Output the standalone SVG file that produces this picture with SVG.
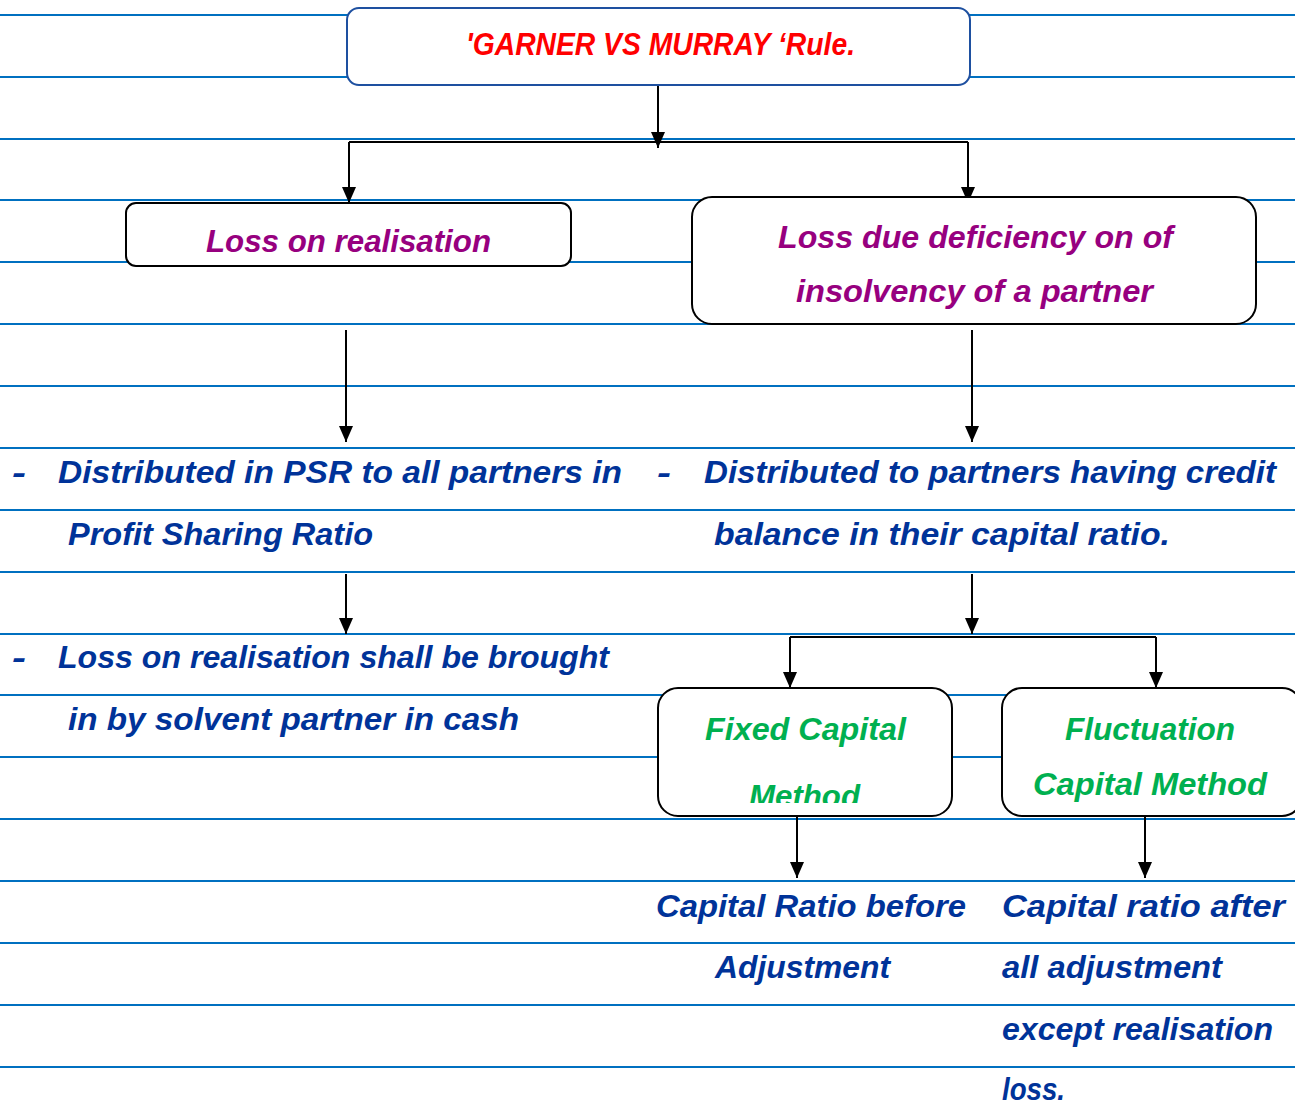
<svg xmlns="http://www.w3.org/2000/svg" width="1295" height="1106" viewBox="0 0 1295 1106">
  <style>
    .rule { stroke: #0070C0; stroke-width: 1.8; }
    .box { fill: #FFFFFF; stroke: #000000; stroke-width: 2; }
    .box-top { fill: #FFFFFF; stroke: #1E50A0; stroke-width: 2; }
    .conn { fill: none; stroke: #000000; stroke-width: 2; }
    text { font-family: "Liberation Sans", "DejaVu Sans", sans-serif; font-weight: bold; font-style: italic; font-size: 32px; }
    .red { fill: #FF0000; }
    .purple { fill: #97007F; }
    .green { fill: #00B050; }
    .blue { fill: #003399; }
  </style>
  <defs>
    <marker id="ah" viewBox="0 0 16 14" refX="16" refY="7" markerWidth="16" markerHeight="14" markerUnits="userSpaceOnUse" orient="auto">
      <path d="M0,0 L16,7 L0,14 z" fill="#000000"/>
    </marker>
    <clipPath id="clip-insolvency"><rect x="692" y="260" width="564" height="49"/></clipPath>
    <clipPath id="clip-method"><rect x="658" y="760" width="294" height="43"/></clipPath>
  </defs>

  <rect x="0" y="0" width="1295" height="1106" fill="#FFFFFF"/>

  <!-- ruled paper -->
  <g id="ruling">
    <line class="rule" x1="0" y1="15" x2="1295" y2="15"/>
    <line class="rule" x1="0" y1="77" x2="1295" y2="77"/>
    <line class="rule" x1="0" y1="139" x2="1295" y2="139"/>
    <line class="rule" x1="0" y1="200" x2="1295" y2="200"/>
    <line class="rule" x1="0" y1="262" x2="1295" y2="262"/>
    <line class="rule" x1="0" y1="324" x2="1295" y2="324"/>
    <line class="rule" x1="0" y1="386" x2="1295" y2="386"/>
    <line class="rule" x1="0" y1="448" x2="1295" y2="448"/>
    <line class="rule" x1="0" y1="510" x2="1295" y2="510"/>
    <line class="rule" x1="0" y1="572" x2="1295" y2="572"/>
    <line class="rule" x1="0" y1="634" x2="1295" y2="634"/>
    <line class="rule" x1="0" y1="695" x2="1295" y2="695"/>
    <line class="rule" x1="0" y1="757" x2="1295" y2="757"/>
    <line class="rule" x1="0" y1="819" x2="1295" y2="819"/>
    <line class="rule" x1="0" y1="881" x2="1295" y2="881"/>
    <line class="rule" x1="0" y1="943" x2="1295" y2="943"/>
    <line class="rule" x1="0" y1="1005" x2="1295" y2="1005"/>
    <line class="rule" x1="0" y1="1067" x2="1295" y2="1067"/>
  </g>

  <!-- connectors -->
  <g id="connectors">
    <path class="conn" d="M658,86 V148" marker-end="url(#ah)"/>
    <path class="conn" d="M349,142 H968"/>
    <path class="conn" d="M349,142 V203" marker-end="url(#ah)"/>
    <path class="conn" d="M968,142 V203" marker-end="url(#ah)"/>
    <path class="conn" d="M346,330 V442" marker-end="url(#ah)"/>
    <path class="conn" d="M972,330 V442" marker-end="url(#ah)"/>
    <path class="conn" d="M346,574 V634" marker-end="url(#ah)"/>
    <path class="conn" d="M972,574 V634" marker-end="url(#ah)"/>
    <path class="conn" d="M790,637 H1156"/>
    <path class="conn" d="M790,637 V688" marker-end="url(#ah)"/>
    <path class="conn" d="M1156,637 V688" marker-end="url(#ah)"/>
    <path class="conn" d="M797,816 V878" marker-end="url(#ah)"/>
    <path class="conn" d="M1145,816 V878" marker-end="url(#ah)"/>
  </g>

  <!-- title -->
  <g id="node-title">
    <rect class="box-top" x="347" y="8" width="623" height="77" rx="12"/>
    <text class="red" x="466" y="55" textLength="389" lengthAdjust="spacingAndGlyphs">'GARNER VS MURRAY ‘Rule.</text>
  </g>

  <!-- first level -->
  <g id="node-loss-realisation">
    <rect class="box" x="126" y="203" width="445" height="63" rx="10"/>
    <text class="purple" x="206" y="252" textLength="285" lengthAdjust="spacingAndGlyphs">Loss on realisation</text>
  </g>

  <g id="node-loss-deficiency">
    <rect class="box" x="692" y="197" width="564" height="127" rx="20"/>
    <text class="purple" x="778" y="248" textLength="395" lengthAdjust="spacingAndGlyphs">Loss due deficiency on of</text>
    <text class="purple" x="796" y="302" textLength="357" lengthAdjust="spacingAndGlyphs" clip-path="url(#clip-insolvency)">insolvency of a partner</text>
  </g>

  <!-- second level -->
  <g id="node-psr">
    <text class="blue" x="12" y="483" textLength="14" lengthAdjust="spacingAndGlyphs">-</text>
    <text class="blue" x="58" y="483" textLength="564" lengthAdjust="spacingAndGlyphs">Distributed in PSR to all partners in</text>
    <text class="blue" x="68" y="545" textLength="305" lengthAdjust="spacingAndGlyphs">Profit Sharing Ratio</text>
  </g>

  <g id="node-credit-balance">
    <text class="blue" x="657" y="483" textLength="14" lengthAdjust="spacingAndGlyphs">-</text>
    <text class="blue" x="704" y="483" textLength="572" lengthAdjust="spacingAndGlyphs">Distributed to partners having credit</text>
    <text class="blue" x="714" y="545" textLength="456" lengthAdjust="spacingAndGlyphs">balance in their capital ratio.</text>
  </g>

  <!-- third level -->
  <g id="node-solvent-cash">
    <text class="blue" x="12" y="668" textLength="14" lengthAdjust="spacingAndGlyphs">-</text>
    <text class="blue" x="58" y="668" textLength="551" lengthAdjust="spacingAndGlyphs">Loss on realisation shall be brought</text>
    <text class="blue" x="68" y="730" textLength="451" lengthAdjust="spacingAndGlyphs">in by solvent partner in cash</text>
  </g>

  <g id="node-fixed-capital">
    <rect class="box" x="658" y="688" width="294" height="128" rx="20"/>
    <text class="green" x="705" y="740" textLength="201" lengthAdjust="spacingAndGlyphs">Fixed Capital</text>
    <text class="green" x="749" y="807" textLength="111" lengthAdjust="spacingAndGlyphs" clip-path="url(#clip-method)">Method</text>
  </g>

  <g id="node-fluctuating-capital">
    <rect class="box" x="1002" y="688" width="300" height="128" rx="20"/>
    <text class="green" x="1065" y="740" textLength="170" lengthAdjust="spacingAndGlyphs">Fluctuation</text>
    <text class="green" x="1033" y="795" textLength="234" lengthAdjust="spacingAndGlyphs">Capital Method</text>
  </g>

  <!-- fourth level -->
  <g id="node-before-adjustment">
    <text class="blue" x="656" y="917" textLength="310" lengthAdjust="spacingAndGlyphs">Capital Ratio before</text>
    <text class="blue" x="715" y="978" textLength="175" lengthAdjust="spacingAndGlyphs">Adjustment</text>
  </g>

  <g id="node-after-adjustment">
    <text class="blue" x="1002" y="917" textLength="283" lengthAdjust="spacingAndGlyphs">Capital ratio after</text>
    <text class="blue" x="1002" y="978" textLength="220" lengthAdjust="spacingAndGlyphs">all adjustment</text>
    <text class="blue" x="1002" y="1040" textLength="271" lengthAdjust="spacingAndGlyphs">except realisation</text>
    <text class="blue" x="1002" y="1100" textLength="63" lengthAdjust="spacingAndGlyphs">loss.</text>
  </g>
</svg>
